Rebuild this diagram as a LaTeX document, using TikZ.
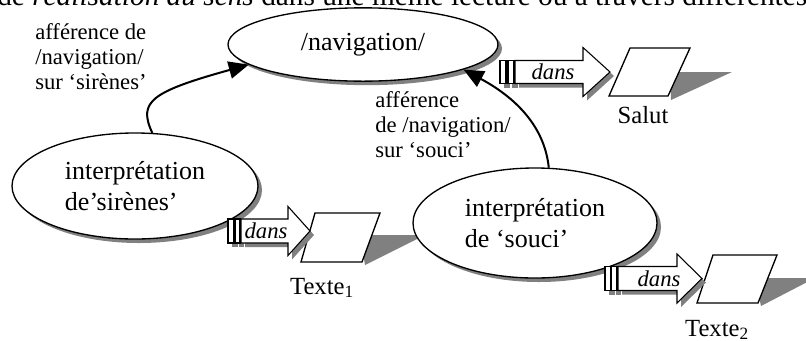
\documentclass[tikz,border=0pt]{standalone}
\usepackage{fontspec}
\setmainfont{Liberation Serif}
\usetikzlibrary{shapes}
\usetikzlibrary{shadows}
\usetikzlibrary{arrows.meta}

\begin{document}
\begin{tikzpicture}[x=0.75pt,y=-0.75pt,
  ombre/.style={drop shadow={opacity=1,fill=gray,shadow xshift=3pt,shadow yshift=-3pt}},
  bulle/.style={ellipse,draw,line width=1pt,fill=white,inner sep=0pt,align=left,ombre,
    font=\fontsize{19.5}{23}\selectfont},
  boite/.style={draw,line width=0.8pt,fill=white,ombre},
  para/.style={draw,line width=1pt,fill=white},
  lien/.style={line width=1.5pt,-{Triangle[length=15pt,width=13pt]}},
  etiq/.style={align=left,inner sep=0pt,font=\fontsize{17}{18.75}\selectfont},
  nom/.style={inner sep=0pt,font=\fontsize{18.5}{22}\selectfont},
  dansl/.style={inner sep=0pt,font=\fontsize{17}{20}\selectfont\itshape}]
\useasboundingbox (0,0) rectangle (806,340);
\clip (0,0) rectangle (806,340);

\node[anchor=base west,inner sep=0pt,font=\fontsize{22}{26}\selectfont] (titre) at (-3,5)
  {de \textit{réalisation du sens} dans une même lecture ou à travers différentes};

\fill[gray] (670,72) -- (732,72) -- (671,100) -- cycle;
\fill[gray] (360,235) -- (425,235) -- (365,265) -- cycle;
\fill[gray] (755,278) -- (815,278) -- (761,306) -- cycle;

\node[bulle,minimum width=202.5pt,minimum height=55pt] (nav) at (363,44.5) {/navigation/};
\node[bulle,minimum width=184.5pt,minimum height=79.5pt] (sir) at (135,186) {interprétation\\de’sirènes’};
\node[bulle,minimum width=183pt,minimum height=82.5pt] (sou) at (535,223) {interprétation\\de ‘souci’};

\draw[lien] (sir.72) .. controls (138,102) and (150,92) .. (nav.190);
\draw[lien] (sou.76) .. controls (545,130) and (520,100) .. (nav.-14);

\draw[para] (630,48) -- (690,48) -- (668,96) -- (609,96) -- cycle;
\draw[para] (315,213) -- (380,213) -- (362,262) -- (301,262) -- cycle;
\draw[para] (713,255) -- (777,255) -- (758,303) -- (697,303) -- cycle;

\draw[boite] (500,60.5) rectangle (506,83.5);
\draw[boite] (508,60.5) rectangle (514,83.5);
\draw[boite] (515,60.5) -- (583,60.5) -- (583,47.5) -- (610,72) -- (583,96.5) -- (583,83.5) -- (515,83.5) -- cycle;
\node[dansl] (dans1) at (553,72) {dans};

\draw[boite] (228,219) rectangle (234,243);
\draw[boite] (235,219) rectangle (240,243);
\draw[boite] (241,219) -- (288,219) -- (288,206.5) -- (310,231) -- (288,255.5) -- (288,243) -- (241,243) -- cycle;
\node[dansl] (dans2) at (266,231) {dans};

\draw[boite] (605,266.5) rectangle (610.5,290.5);
\draw[boite] (611.5,266.5) rectangle (617,290.5);
\draw[boite] (618,266.5) -- (677,266.5) -- (677,254) -- (702,278.5) -- (677,303) -- (677,290.5) -- (618,290.5) -- cycle;
\node[dansl] (dans3) at (659,278.5) {dans};

\node[nom] (salut) at (643,115) {Salut};
\node[nom] (texte1) at (322,288) {Texte\textsubscript{1}};
\node[nom] (texte2) at (717,330) {Texte\textsubscript{2}};

\node[etiq,anchor=west] (aff1) at (35,56.5) {afférence de\\/navigation/\\sur ‘sirènes’};
\node[etiq,anchor=west] (aff2) at (375,124.5) {afférence\\de /navigation/\\sur ‘souci’};

\end{tikzpicture}
\end{document}
